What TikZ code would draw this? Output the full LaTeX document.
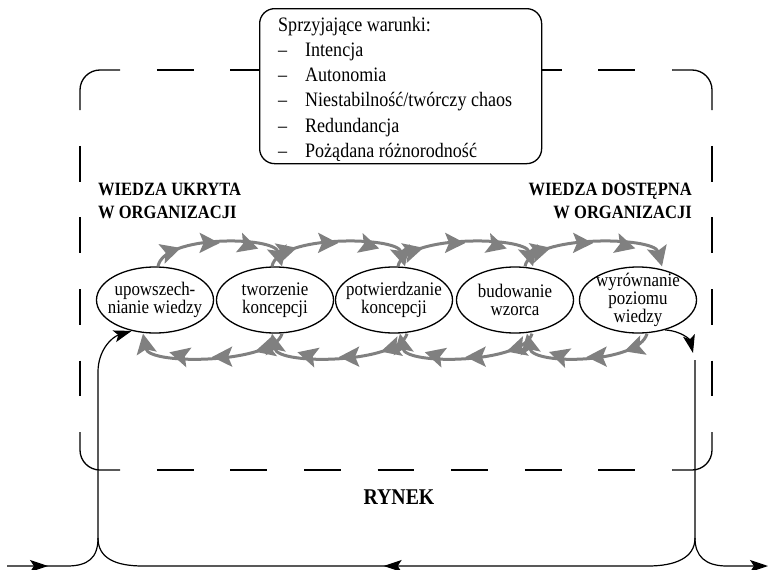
\documentclass[tikz,border=0pt]{standalone}
\usepackage{fontspec}
\setmainfont{Liberation Serif}[FakeStretch=0.88]
\usetikzlibrary{arrows.meta,decorations.markings,shapes.geometric}
\definecolor{cycgray}{RGB}{128,128,128}
\tikzset{
  gtip/.tip={Stealth[length=20pt,width=20pt,inset=4pt]},
  btip/.tip={Stealth[length=18pt,width=12pt,inset=4pt]},
  frame/.style={line width=1.3pt, black},
  hdash/.style={dash pattern=on 36.8pt off 36.8pt, dash phase=36.8pt},
  vdash/.style={dash pattern=on 35.8pt off 35.8pt, dash phase=35.8pt},
  phase/.style={ellipse, draw, line width=1.3pt, fill=white,
    minimum width=117pt, minimum height=66pt, inner sep=0pt},
  ptext/.style={align=center, inner sep=0pt, font=\fontsize{19.2}{18}\selectfont},
  cyc/.style={draw, color=cycgray, line width=3pt, -{gtip},
    decoration={markings,
      mark=at position 0.22 with {\arrow{gtip}},
      mark=at position 0.5 with {\arrow{gtip}},
      mark=at position 0.78 with {\arrow{gtip}}},
    postaction={decorate}},
  flow/.style={line width=1.2pt, black},
  ttl/.style={inner sep=0pt, font=\fontsize{18.8}{23}\selectfont\bfseries},
}
% knowledge spiral arcs between neighbouring phases
\newcommand\toparc[4]{\draw[cyc] ([xshift=#2pt]#1.north) .. controls +(6,-32) and +(-8,-30) .. ([xshift=#4pt]#3.north);}
\newcommand\botarc[4]{\draw[cyc] ([xshift=#2pt]#1.south) .. controls +(-8,30) and +(6,32) .. ([xshift=#4pt]#3.south);}
\begin{document}
\begin{tikzpicture}[x=1pt,y=-1pt]
\useasboundingbox (0,0) rectangle (769,570);

% dashed organisation boundary: solid corners, dashed sides
\draw[frame, rounded corners=20pt] (120,70) -- (80,70) -- (80,110);
\draw[frame, rounded corners=20pt] (672,70) -- (712,70) -- (712,110);
\draw[frame, rounded corners=20pt] (80,432) -- (80,470) -- (120,470);
\draw[frame, rounded corners=20pt] (712,432) -- (712,470) -- (672,470);
\draw[frame, hdash] (120,70) -- (672,70);
\draw[frame, hdash] (120,470) -- (672,470);
\draw[frame, vdash] (80,110) -- (80,432);
\draw[frame, vdash] (712,110) -- (712,432);

% enabling conditions
\node[draw, line width=1.3pt, fill=white, rounded corners=15pt, anchor=north west,
      minimum width=282pt, minimum height=155pt, inner sep=0pt] (cond) at (259,8) {};
\node[anchor=base west, inner sep=0pt, font=\fontsize{20.5}{25.3}\selectfont] (condtxt) at (278,31)
  {\begin{tabular}[t]{@{}l@{}}
   Sprzyjające warunki:\\
   \makebox[27pt][l]{–}Intencja\\
   \makebox[27pt][l]{–}Autonomia\\
   \makebox[27pt][l]{–}Niestabilność/twórczy chaos\\
   \makebox[27pt][l]{–}Redundancja\\
   \makebox[27pt][l]{–}Pożądana różnorodność
   \end{tabular}};

% headings
\node[ttl, anchor=base west] (ukryta) at (98,195)
  {\begin{tabular}[t]{@{}l@{}}WIEDZA UKRYTA\\W ORGANIZACJI\end{tabular}};
\node[ttl, anchor=base east] (dostepna) at (692,195)
  {\begin{tabular}[t]{@{}r@{}}WIEDZA DOSTĘPNA\\W ORGANIZACJI\end{tabular}};
\node[inner sep=0pt, font=\fontsize{22.5}{27}\selectfont\bfseries] (rynek) at (399,497) {RYNEK};

% phases
\node[phase] (e1) at (155,300) {};
\node[phase] (e2) at (275,300) {};
\node[phase] (e3) at (394,300) {};
\node[phase] (e4) at (515,300) {};
\node[phase] (e5) at (638,300) {};
\node[ptext] (t1) at (e1) {upowszech-\\nianie wiedzy};
\node[ptext] (t2) at (e2) {tworzenie\\koncepcji};
\node[ptext] (t3) at (e3) {potwierdzanie\\koncepcji};
\node[ptext] (t4) at (e4) {budowanie\\wzorca};
\node[ptext] (t5) at (e5) {wyrównanie\\poziomu\\wiedzy};

% spiral: forward over the top, back underneath
\toparc{e1}{3}{e2}{7}
\toparc{e2}{-3}{e3}{11}
\toparc{e3}{4}{e4}{18}
\toparc{e4}{10}{e5}{24}
\botarc{e5}{9}{e4}{12}
\botarc{e4}{17}{e3}{6}
\botarc{e3}{13}{e2}{-3}
\botarc{e2}{7}{e1}{-12}

% market flows
\coordinate (inL) at (7,566);
\coordinate (jL) at (98,538);
\coordinate (jR) at (695,538);
\coordinate (rTop) at (695,360);
\coordinate (outR) at (768,566);
\coordinate (drop) at (693,353);

\draw[flow, -{btip}, decoration={markings, mark=at position 41pt with {\arrow{btip}}}, postaction={decorate}]
  (inL) -- (67,566) .. controls (88,566) and (98,558) .. (jL)
  -- (98,372) .. controls (98,350) and (112,337) .. (e1.233);
\draw[flow, decoration={markings, mark=at position 0.52 with {\arrow{btip}}}, postaction={decorate}]
  (jR) .. controls (695,558) and (675,566) .. (648,566) -- (143,566)
  .. controls (115,566) and (98,558) .. (jL);
\draw[flow, -{btip}] (rTop) -- (jR) .. controls (695,556) and (705,566) .. (727,566) -- (outR);
\draw[flow, -{btip}] (e5.312) .. controls (682,331) and (690,340) .. (drop);
\end{tikzpicture}
\end{document}
